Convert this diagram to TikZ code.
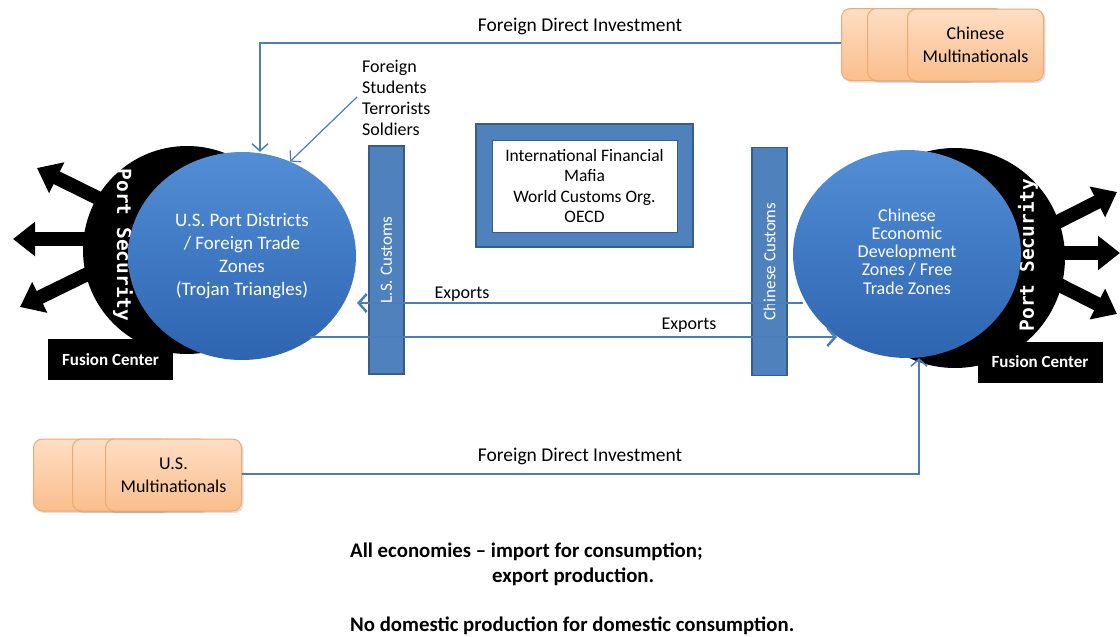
\documentclass[tikz,border=0pt]{standalone}
\usepackage{fontspec}
\setmainfont{Carlito}
\newfontfamily\psfont{DejaVu Sans Mono}
\usetikzlibrary{shapes.geometric,arrows.meta,calc,shadows}
\definecolor{lineblue}{RGB}{74,126,187}
\definecolor{barblue}{RGB}{79,129,189}
\definecolor{bardark}{RGB}{56,93,138}
\definecolor{circtop}{RGB}{82,142,214}
\definecolor{circbot}{RGB}{46,100,176}
\definecolor{peachtop}{RGB}{253,222,196}
\definecolor{peachbot}{RGB}{250,190,140}
\definecolor{peachline}{RGB}{236,170,115}
\tikzset{
  lbl/.style={font=\fontsize{18}{21}\selectfont, inner sep=0, align=center},
  fdilbl/.style={font=\fontsize{19.5}{22}\selectfont, inner sep=0},
  bluecirc/.style={ellipse, minimum width=228pt, minimum height=208pt, top color=circtop, bottom color=circbot, text=white, align=center, inner sep=0, font=\fontsize{19}{23}\selectfont},
  blackcirc/.style={circle, fill=black, inner sep=0},
  bigarrow/.style={line width=14pt, black, -{Triangle[width=33pt,length=22pt]}},
  fusion/.style={fill=black, text=white, font=\bfseries\fontsize{17}{19}\selectfont, minimum width=125pt, minimum height=41pt, inner sep=0},
  custbar/.style={fill=barblue, draw=bardark, line width=1.5pt, minimum width=228pt, minimum height=35pt, inner sep=0, rotate=90, text=white, font=\fontsize{17}{20}\selectfont},
  porttxt/.style={text=white, font=\psfont\bfseries\fontsize{19.5}{22}\selectfont, inner sep=0},
  multi/.style={rounded corners=9pt, draw=peachline, line width=1pt, top color=peachtop, bottom color=peachbot, minimum width=136pt, minimum height=72pt, inner sep=0, align=center, font=\fontsize{18}{23}\selectfont, drop shadow={opacity=0.25, shadow xshift=2pt, shadow yshift=-2pt}},
  flow/.style={draw=lineblue, line width=1.5pt, -{Straight Barb[length=7pt,width=16pt]}},
  expline/.style={draw=lineblue, line width=2.5pt, -{Straight Barb[length=8pt,width=18pt]}},
  bottomtxt/.style={font=\bfseries\fontsize{20.8}{23}\selectfont, inner sep=0, anchor=west}
}
\begin{document}
\begin{tikzpicture}[x=1pt,y=-1pt]
\useasboundingbox (0,0) rectangle (1120,637);
\fill[white] (0,0) rectangle (1120,637);

% black port-security discs
\node[blackcirc, minimum size=208pt] (blkL) at (187,250) {};
\node[blackcirc, minimum size=220pt] (blkR) at (955,258) {};

% big black arrows
\coordinate (aL1s) at (122,210); \coordinate (aL1e) at (37,168);
\coordinate (aL2s) at (110,239); \coordinate (aL2e) at (13,239);
\coordinate (aL3s) at (112,262); \coordinate (aL3e) at (20,307);
\coordinate (aR1s) at (1030,236); \coordinate (aR1e) at (1117,192);
\coordinate (aR2s) at (1030,253); \coordinate (aR2e) at (1120,253);
\coordinate (aR3s) at (1030,270); \coordinate (aR3e) at (1117,314);
\draw[bigarrow] (aL1s) -- (aL1e);
\draw[bigarrow] (aL2s) -- (aL2e);
\draw[bigarrow] (aL3s) -- (aL3e);
\draw[bigarrow] (aR1s) -- (aR1e);
\draw[bigarrow] (aR2s) -- (aR2e);
\draw[bigarrow] (aR3s) -- (aR3e);

\node[porttxt, rotate=-90] (psL) at (123,245) {Port Security};
\node[porttxt, rotate=90] (psR) at (1028,255) {Port Security};

% fusion centers
\node[fusion] (fcL) at (110.5,359.5) {Fusion Center};
\node[fusion] (fcR) at (1040,362) {Fusion Center};

% blue zones
\node[bluecirc] (us) at (242,256) {U.S. Port Districts\\/ Foreign Trade\\Zones\\(Trojan Triangles)};
\node[bluecirc] (cn) at (907,254) {\raisebox{6pt}{\fontsize{18}{18.3}\selectfont\begin{tabular}{@{}c@{}}Chinese\\Economic\\Development\\Zones / Free\\Trade Zones\end{tabular}}};

% customs bars
\node[custbar] (usc) at (386.5,260) {L.S. Customs};
\node[custbar] (cnc) at (769.5,261.5) {Chinese Customs};

% central box
\node[fill=barblue, draw=bardark, line width=1.5pt, minimum width=217pt, minimum height=123pt, inner sep=0] (ifmOuter) at (584.5,185.5) {};
\node[fill=white, draw=bardark, line width=1pt, minimum width=185pt, minimum height=92pt, inner sep=0, align=center, font=\fontsize{17.5}{20.5}\selectfont] (ifm) at (584.5,186) {International Financial\\Mafia\\World Customs Org.\\OECD};

% multinationals
\node[multi] (cm1) at (909.5,44.5) {};
\node[multi] (cm2) at (935.5,44.5) {};
\node[multi] (cm3) at (975.5,45) {Chinese\\Multinationals};
\node[multi] (um1) at (101.5,475) {};
\node[multi] (um2) at (140.5,475) {};
\node[multi] (um3) at (173.5,475) {U.S.\\Multinationals};

% foreign students label
\node[lbl, anchor=west, align=left] (stud) at (362,98) {Foreign\\Students\\Terrorists\\Soldiers};

% connectors
\coordinate (fdiT) at (260,43);
\draw[flow] (cm1.west |- fdiT) -- (fdiT) -- (us.north -| fdiT);
\node[fdilbl] (fdiTlbl) at (580,26) {Foreign Direct Investment};

\coordinate (fdiB) at (919,474);
\draw[flow] (um3.east |- fdiB) -- (fdiB) -- (cn.south -| fdiB);
\node[fdilbl] (fdiBlbl) at (580,456) {Foreign Direct Investment};

\coordinate (studS) at (357,97);
\draw[draw=lineblue, line width=1.2pt, -{Straight Barb[length=7pt,width=16pt]}] (studS) -- (us.63);

\coordinate (ue1) at (803,303); \coordinate (ue2) at (357,303);
\draw[expline] (ue1) -- (ue2);
\node[lbl] (uelbl) at (462,294) {Exports};
\coordinate (le1) at (310,337); \coordinate (le2) at (837,337);
\draw[expline] (le1) -- (le2);
\node[lbl] (lelbl) at (689,325) {Exports};

% bottom statements
\node[bottomtxt] (s1) at (350,552) {All economies -- import for consumption;};
\node[bottomtxt] (s2) at (492,577) {export production.};
\node[bottomtxt] (s3) at (350,626) {No domestic production for domestic consumption.};
\end{tikzpicture}
\end{document}
